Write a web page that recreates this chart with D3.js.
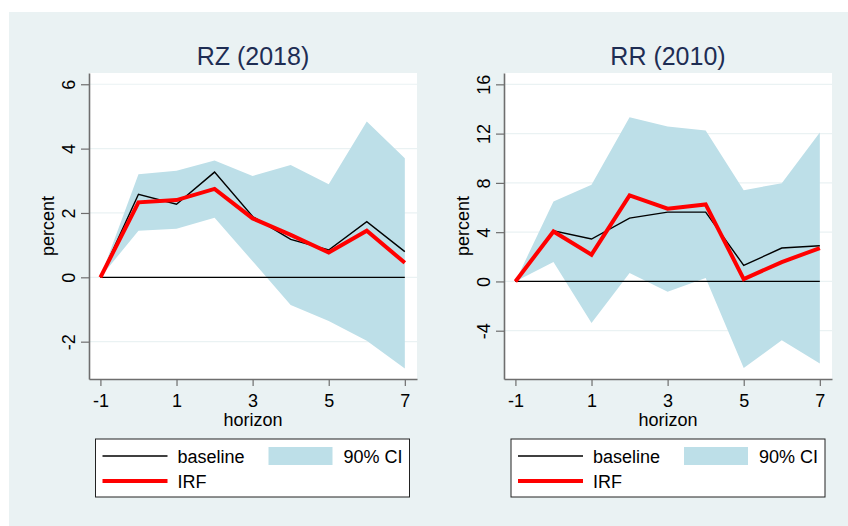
<!DOCTYPE html>
<html>
<head>
<meta charset="utf-8">
<script src="https://cdn.jsdelivr.net/npm/d3@7"></script>
<style>
  body { margin: 0; background: #fff; }
  svg { display: block; font-family: "Liberation Sans", Arial, sans-serif; }
</style>
</head>
<body>
<div class="canvas"></div>
<script>
// horizons shared by both panels
const horizon = [-1, 0, 1, 2, 3, 4, 5, 6, 7];
const xTicks = [-1, 1, 3, 5, 7];

// RZ (2018)
const rzBaseline = [0, 2.58, 2.27, 3.27, 1.89, 1.18, 0.85, 1.73, 0.80];
const rzIrf = [0, 2.33, 2.40, 2.75, 1.83, 1.32, 0.77, 1.45, 0.45];
const rzLower = [0, 1.45, 1.51, 1.85, 0.50, -0.86, -1.36, -1.97, -2.83];
const rzUpper = [0, 3.20, 3.31, 3.63, 3.15, 3.49, 2.89, 4.84, 3.70];
const rzTicks = [-2, 0, 2, 4, 6];

// RR (2010)
const rrBaseline = [0, 4.11, 3.44, 5.14, 5.63, 5.63, 1.30, 2.71, 2.90];
const rrIrf = [0, 4.06, 2.17, 6.98, 5.90, 6.25, 0.19, 1.57, 2.71];
const rrLower = [0, 1.57, -3.38, 0.68, -0.84, 0.27, -7.03, -4.78, -6.67];
const rrUpper = [0, 6.49, 7.84, 13.33, 12.57, 12.25, 7.41, 7.98, 12.09];
const rrTicks = [-4, 0, 4, 8, 12, 16];

const legendLabels = ["baseline", "IRF", "90% CI"];

var width = 848;
var height = 526;
var bgColor = "#eaf2f3";
var ciColor = "#bddfe8";
var axisColor = "#6e6e6e";
var fontSize = "18px";

var svg = d3
  .select(".canvas")
  .append("svg")
  .attr("width", width)
  .attr("height", height);

svg.append("rect").attr("width", width).attr("height", height).attr("fill", "#fff");
svg
  .append("rect")
  .attr("x", 9)
  .attr("y", 12)
  .attr("width", width - 9)
  .attr("height", height - 12)
  .attr("fill", bgColor);

function drawPanel(opt) {
  var left = opt.left, right = opt.left + 328, top = 73, bottom = 379;

  var xScale = d3.scaleLinear().domain([-1.3, 7.32]).range([left, right]);
  var yScale = d3.scaleLinear().domain(opt.yDomain).range([bottom, top]);

  var g = svg.append("g");

  /* plot region */
  g.append("rect")
    .attr("x", left)
    .attr("y", top)
    .attr("width", right - left)
    .attr("height", bottom - top)
    .attr("fill", "#fff");

  /* grid */
  g.selectAll(".grid")
    .data(opt.yTicks)
    .enter()
    .append("line")
    .attr("x1", left)
    .attr("x2", right)
    .attr("y1", (d) => yScale(d))
    .attr("y2", (d) => yScale(d))
    .attr("stroke", bgColor)
    .attr("stroke-width", 1.2);

  var rows = horizon.map((h, i) => ({
    h: h,
    base: opt.baseline[i],
    irf: opt.irf[i],
    lo: opt.lower[i],
    hi: opt.upper[i],
  }));

  /* CI band */
  var area = d3
    .area()
    .x((d) => xScale(d.h))
    .y0((d) => yScale(d.lo))
    .y1((d) => yScale(d.hi));
  g.append("path").attr("d", area(rows)).attr("fill", ciColor);

  /* zero line */
  var line = d3.line().x((d) => xScale(d.h));
  g.append("path")
    .attr("d", line.y(() => yScale(0))(rows))
    .attr("fill", "none")
    .attr("stroke", "#000")
    .attr("stroke-width", 1.2);

  g.append("path")
    .attr("d", line.y((d) => yScale(d.base))(rows))
    .attr("fill", "none")
    .attr("stroke", "#000")
    .attr("stroke-width", 1.4);

  g.append("path")
    .attr("d", line.y((d) => yScale(d.irf))(rows))
    .attr("fill", "none")
    .attr("stroke", "#ff0000")
    .attr("stroke-width", 4)
    .attr("stroke-linejoin", "miter");

  /* axes */
  var yAxis = d3.axisLeft(yScale).tickValues(opt.yTicks).tickSize(8).tickSizeOuter(0).tickFormat(d3.format("d"));
  var yg = g.append("g").attr("transform", `translate(${left},0)`).call(yAxis);
  yg.selectAll("text")
    .attr("transform", "rotate(-90)")
    .attr("text-anchor", "middle")
    .attr("x", 0)
    .attr("y", -14)
    .attr("dy", 0)
    .attr("fill", "#000")
    .style("font-size", fontSize)
    .text((d) => (d < 0 ? "-" + Math.abs(d) : d));

  var xAxis = d3.axisBottom(xScale).tickValues(xTicks).tickSize(7).tickSizeOuter(0).tickFormat(d3.format("d"));
  var xg = g.append("g").attr("transform", `translate(0,${bottom})`).call(xAxis);
  xg.selectAll("text")
    .attr("y", 28)
    .attr("dy", 0)
    .attr("fill", "#000")
    .style("font-size", fontSize)
    .text((d) => (d < 0 ? "-" + Math.abs(d) : d));

  [yg, xg].forEach((a) => {
    a.select(".domain").attr("stroke", axisColor).attr("stroke-width", 1.6);
    a.selectAll(".tick line").attr("stroke", axisColor).attr("stroke-width", 1.2);
  });

  /* labels */
  var cx = (left + right) / 2;
  g.append("text")
    .attr("x", cx)
    .attr("y", 65)
    .attr("text-anchor", "middle")
    .attr("fill", "#1e2d53")
    .style("font-size", "25px")
    .text(opt.title);

  g.append("text")
    .attr("x", cx)
    .attr("y", 426)
    .attr("text-anchor", "middle")
    .style("font-size", fontSize)
    .text("horizon");

  g.append("text")
    .attr("transform", `translate(${left - opt.ylabOffset},226) rotate(-90)`)
    .attr("text-anchor", "middle")
    .style("font-size", fontSize)
    .text("percent");

  /* legend */
  var lx = opt.legendX, ly = 439;
  var lg = g.append("g").attr("transform", `translate(${lx},${ly})`);
  lg.append("rect")
    .attr("width", 314)
    .attr("height", 58)
    .attr("fill", "#fff")
    .attr("stroke", "#222")
    .attr("stroke-width", 1);
  lg.append("line").attr("x1", 7).attr("x2", 72).attr("y1", 17).attr("y2", 17).attr("stroke", "#000").attr("stroke-width", 1.4);
  lg.append("line").attr("x1", 7).attr("x2", 72).attr("y1", 42).attr("y2", 42).attr("stroke", "#ff0000").attr("stroke-width", 4);
  lg.append("rect").attr("x", 173).attr("y", 8).attr("width", 64).attr("height", 18).attr("fill", ciColor);
  lg.append("text").attr("x", 82).attr("y", 23.5).style("font-size", fontSize).text(legendLabels[0]);
  lg.append("text").attr("x", 82).attr("y", 49).style("font-size", fontSize).text(legendLabels[1]);
  lg.append("text").attr("x", 248).attr("y", 23.5).style("font-size", fontSize).text(legendLabels[2]);
}

drawPanel({
  title: "RZ (2018)",
  left: 89,
  yDomain: [-3.16, 6.35],
  yTicks: rzTicks,
  baseline: rzBaseline,
  irf: rzIrf,
  lower: rzLower,
  upper: rzUpper,
  ylabOffset: 35,
  legendX: 95.5,
});

drawPanel({
  title: "RR (2010)",
  left: 504,
  yDomain: [-7.92, 16.92],
  yTicks: rrTicks,
  baseline: rrBaseline,
  irf: rrIrf,
  lower: rrLower,
  upper: rrUpper,
  ylabOffset: 35,
  legendX: 511,
});
</script>
</body>
</html>
